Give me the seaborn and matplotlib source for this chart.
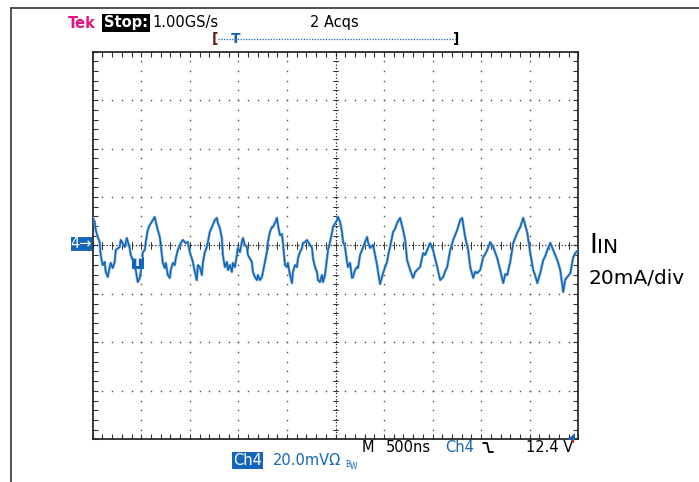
import matplotlib
matplotlib.use("Agg")
import matplotlib.pyplot as plt
from matplotlib.ticker import MultipleLocator
from matplotlib.lines import Line2D
from matplotlib.patches import Polygon, Rectangle
import pandas as pd
import seaborn as sns

# Input current capture, channel 4 (time in ns from left edge, current in mA)
time_ns = [0, 21, 31, 52, 72, 82, 103, 124, 134, 155, 175, 186, 206, 227, 237,
           278, 289, 330, 351, 381, 392, 412, 443, 464, 485, 495, 516, 536, 546,
           567, 588, 619, 639, 650, 670, 691, 701, 722, 742, 753, 773, 794, 804,
           825, 845, 856, 876, 907, 928, 959, 979, 1000, 1031, 1052, 1072, 1083,
           1103, 1124, 1134, 1155, 1175, 1186, 1206, 1227, 1258, 1278, 1289, 1309,
           1330, 1340, 1361, 1382, 1392, 1412, 1433, 1443, 1464, 1485, 1495, 1516,
           1536, 1547, 1567, 1588, 1598, 1639, 1650, 1670, 1691, 1701, 1722, 1742,
           1753, 1773, 1794, 1804, 1825, 1845, 1856, 1876, 1897, 1907, 1928, 1949,
           1959, 1980, 2000, 2010, 2031, 2052, 2062, 2083, 2103, 2114, 2134, 2155,
           2165, 2186, 2206, 2237, 2258, 2268, 2289, 2309, 2320, 2340, 2361, 2371,
           2392, 2413, 2423, 2443, 2464, 2474, 2516, 2526, 2547, 2567, 2578, 2598,
           2619, 2629, 2650, 2670, 2681, 2701, 2722, 2732, 2753, 2773, 2804, 2825,
           2835, 2856, 2887, 2907, 2928, 2938, 2959, 2990, 3010, 3031, 3046, 3062,
           3093, 3113, 3134, 3165, 3196, 3217, 3237, 3268, 3299, 3320, 3340, 3371,
           3402, 3423, 3444, 3474, 3505, 3547, 3578, 3609, 3630, 3650, 3681, 3712,
           3753, 3784, 3804, 3835, 3866, 3887, 3918, 3938, 3959, 3990, 4021, 4041,
           4062, 4093, 4124, 4165, 4196, 4227, 4248, 4268, 4299, 4330, 4371, 4402,
           4433, 4475, 4505, 4536, 4557, 4578, 4608, 4639, 4660, 4681, 4712, 4742,
           4784, 4814, 4845, 4866, 4887, 4918, 4948, 4969, 5000]
current_ma = [11.4, 9.7, 6.4, 3.5, 1.4, -3.9, -8.1, -6.8, -10.9, -13.0, -8.9, -7.2,
              -9.3, -6.8, -1.9, -0.6, 2.3, -0.6, 3.1, -1.0, -3.9, -6.0, -10.1,
              -15.1, -13.4, -10.9, -2.7, -1.9, 1.4, 6.4, 8.5, 10.5, 11.8, 9.7, 6.4,
              3.5, 0.2, -7.2, -9.3, -7.2, -12.2, -13.4, -10.1, -7.2, -8.1, -5.2,
              -1.9, 1.0, 2.3, 1.0, 1.4, -2.7, -6.8, -10.9, -14.3, -8.1, -8.9,
              -12.2, -7.2, -2.7, -0.6, 1.4, 5.6, 7.6, 10.5, 11.4, 9.3, 7.2, 3.1,
              -3.9, -8.9, -6.8, -10.1, -8.1, -10.9, -7.2, -8.9, -3.9, -1.0, -2.7,
              1.4, 3.1, 0.2, -0.6, -3.9, -6.8, -10.9, -13.0, -14.3, -12.2, -14.3,
              -13.0, -10.9, -6.8, -2.7, 1.4, 5.6, 7.6, 7.6, 9.3, 11.4, 8.5, 4.3,
              4.7, 1.0, -8.1, -8.9, -7.2, -12.2, -15.5, -10.9, -8.1, -8.9, -5.2,
              -2.7, -1.0, 1.0, 1.4, 2.3, 0.2, -1.0, -5.2, -8.9, -10.9, -14.3,
              -15.1, -12.2, -15.1, -12.2, -5.2, -1.9, 1.4, 5.2, 7.6, 10.5, 11.8,
              9.7, 5.6, 1.4, -0.6, -6.8, -8.9, -7.2, -13.4, -13.0, -10.1, -8.9,
              -9.3, -3.9, -1.9, 1.4, 3.5, 1.4, -1.0, 0.2, -3.9, -8.1, -10.9, -15.9,
              -11.4, -9.0, -6.8, -3.2, -0.6, 5.6, 6.8, 9.3, 11.4, 6.4, 2.3, -6.0,
              -10.1, -13.4, -11.0, -10.1, -8.9, -3.1, -3.9, -1.9, 1.0, -1.9, -8.9,
              -14.3, -13.0, -10.5, -8.9, -1.9, 2.3, 6.4, 10.5, 11.4, 3.5, -1.9,
              -8.9, -13.4, -10.8, -11.4, -10.1, -4.8, -3.6, -1.9, 1.4, -0.6, -5.2,
              -10.1, -15.5, -11.8, -12.2, -6.8, 1.0, 5.2, 7.6, 11.4, 5.2, -3.1,
              -10.1, -12.5, -15.5, -11.4, -6.0, -4.4, -1.9, 1.0, -1.9, -6.0, -10.1,
              -19.2, -14.0, -13.0, -11.4, -4.8, -3.1, -1.9]

NS_PER_DIV = 500
MA_PER_DIV = 20
H_DIVS = 10
V_DIVS = 8
SUB = 5  # minor marks per division

W, H = 699, 482
TRACE = "#1060b0"
TRACE_LIGHT = "#6ea8de"
TEK_BLUE = "#1565b8"

sns.set_theme(style="white")
plt.rcParams["font.family"] = ["DejaVu Sans"]

fig = plt.figure(figsize=(W / 100, H / 100), dpi=100)
fig.patch.set_facecolor("white")


def fx(x):
    return x / W


def fy(y):
    return 1 - y / H


left, top, right, bottom = 92.7, 51.7, 578.3, 439.3
ax = fig.add_axes([fx(left), fy(bottom), (right - left) / W, (bottom - top) / H])
ax.set_facecolor("white")

t_max = NS_PER_DIV * H_DIVS
i_max = MA_PER_DIV * V_DIVS / 2
ax.set_xlim(0, t_max)
ax.set_ylim(-i_max, i_max)

# graticule: dotted division lines
dot_kw = dict(ls="none", marker="s", ms=1.0, mew=0, color="#4a4a4a", zorder=1)
minor_x = [k * NS_PER_DIV / SUB for k in range(H_DIVS * SUB + 1)]
minor_y = [-i_max + k * MA_PER_DIV / SUB for k in range(V_DIVS * SUB + 1)]
for d in range(1, H_DIVS):
    if d == H_DIVS // 2:
        continue
    ax.plot([d * NS_PER_DIV] * len(minor_y), minor_y, **dot_kw)
for d in range(1, V_DIVS):
    if d == V_DIVS // 2:
        continue
    yv = -i_max + d * MA_PER_DIV
    ax.plot(minor_x, [yv] * len(minor_x), **dot_kw)

# centre cross with small tick marks
ax.axhline(0, color="#222222", lw=0.9, ls=(0, (1, 1.6)), zorder=1)
ax.axvline(t_max / 2, color="#222222", lw=0.9, ls=(0, (1, 1.6)), zorder=1)
for xv in minor_x:
    ax.plot([xv, xv], [-1.3, 1.3], color="#333333", lw=0.7, zorder=1)
for yv in minor_y:
    ax.plot([t_max / 2 - 30, t_max / 2 + 30], [yv, yv], color="#333333", lw=0.7, zorder=1)

# edge tick marks
ax.xaxis.set_major_locator(MultipleLocator(NS_PER_DIV))
ax.xaxis.set_minor_locator(MultipleLocator(NS_PER_DIV / SUB))
ax.yaxis.set_major_locator(MultipleLocator(MA_PER_DIV))
ax.yaxis.set_minor_locator(MultipleLocator(MA_PER_DIV / SUB))
ax.tick_params(which="both", direction="in", length=3.5, width=0.8, color="#333333",
               top=True, bottom=True, left=True, right=True,
               labelbottom=False, labelleft=False)
for s in ax.spines.values():
    s.set_color("#2a2a2a")
    s.set_linewidth(1.3)

# waveform: light halo under a thinner dark trace
df = pd.DataFrame({"time_ns": time_ns, "current_ma": current_ma})
sns.lineplot(data=df, x="time_ns", y="current_ma", ax=ax, color=TRACE_LIGHT,
             lw=1.9, estimator=None, sort=False, zorder=3)
sns.lineplot(data=df, x="time_ns", y="current_ma", ax=ax, color=TRACE,
             lw=0.9, estimator=None, sort=False, zorder=4)
ax.set_xlabel("")
ax.set_ylabel("")

# outer frame
fig.add_artist(Line2D([fx(11), fx(699)], [fy(8), fy(8)], color="#333333", lw=1.2))
fig.add_artist(Line2D([fx(11), fx(11)], [fy(8), fy(482)], color="#333333", lw=1.2))

# header
fig.text(fx(68), fy(23), "Tek", color="#e8127f", fontsize=10.5, fontweight="bold", va="center")
fig.text(fx(104), fy(23), "Stop:", color="white", fontsize=10.5, fontweight="bold", va="center",
         bbox=dict(boxstyle="square,pad=0.12", fc="black", ec="none"))
fig.text(fx(152), fy(23), "1.00GS/s", color="black", fontsize=10.5, va="center")
fig.text(fx(310), fy(23), "2 Acqs", color="black", fontsize=10.5, va="center")

# record position bar
fig.text(fx(212), fy(39), "[", color="#5a1a10", fontsize=10, va="center", fontweight="bold")
fig.text(fx(459), fy(39), "]", color="black", fontsize=10, va="center", ha="right", fontweight="bold")
fig.add_artist(Line2D([fx(218), fx(455)], [fy(39), fy(39)], color=TEK_BLUE, lw=0.9,
                      ls=(0, (1, 1.2))))
fig.text(fx(236), fy(39), "T", color=TEK_BLUE, fontsize=10, va="center", ha="center",
         fontweight="bold")

# channel 4 ground marker
fig.add_artist(Rectangle((fx(71), fy(251)), (92 - 71) / W, 14 / H, color=TEK_BLUE, lw=0))
fig.text(fx(81.5), fy(244), "4\u2192", color="white", fontsize=10.5, va="center", ha="center")

# trigger marker on the trace
fig.add_artist(Rectangle((fx(131.5), fy(269)), 12 / W, 12 / H, color=TEK_BLUE, lw=0, zorder=5))
fig.text(fx(137.5), fy(263), "T", color="white", fontsize=9.5, va="center", ha="center",
         fontweight="bold", zorder=6)

# channel annotation
fig.text(fx(589), fy(253), "I", color="black", fontsize=19.5, va="baseline")
fig.text(fx(597), fy(253), "IN", color="black", fontsize=14.5, va="baseline")
fig.text(fx(588), fy(284), "20mA/div", color="black", fontsize=14.5, va="baseline")

# status line
fig.text(fx(362), fy(452), "M", color="black", fontsize=10.5, va="baseline")
fig.text(fx(386), fy(452), "500ns", color="black", fontsize=10.5, va="baseline")
fig.text(fx(445), fy(452), "Ch4", color=TEK_BLUE, fontsize=10.5, va="baseline")
fig.add_artist(Line2D([fx(483), fx(487), fx(489), fx(493)],
                      [fy(443), fy(443), fy(452), fy(452)], color="black", lw=1.3))
fig.text(fx(573), fy(452), "12.4 V", color="black", fontsize=10.5, va="baseline", ha="right")

fig.text(fx(233), fy(465), "Ch4", color="white", fontsize=10.5, va="baseline",
         bbox=dict(boxstyle="square,pad=0.1", fc=TEK_BLUE, ec="none"))
fig.text(fx(273), fy(465), "20.0mV\u03a9", color=TEK_BLUE, fontsize=10.5, va="baseline")
fig.text(fx(345), fy(467), "B", color=TEK_BLUE, fontsize=5.5, va="baseline")
fig.text(fx(350), fy(469), "W", color=TEK_BLUE, fontsize=5.5, va="baseline")

# trigger level marker at bottom-right corner
fig.add_artist(Polygon([(fx(575), fy(433)), (fx(575), fy(440)), (fx(567), fy(440))],
                       closed=True, color=TEK_BLUE, lw=0, zorder=6))
fig.add_artist(Rectangle((fx(571.5), fy(443)), 2 / W, 3 / H, color="#e02020", lw=0, zorder=6))

fig.savefig("out.png", dpi=100)
